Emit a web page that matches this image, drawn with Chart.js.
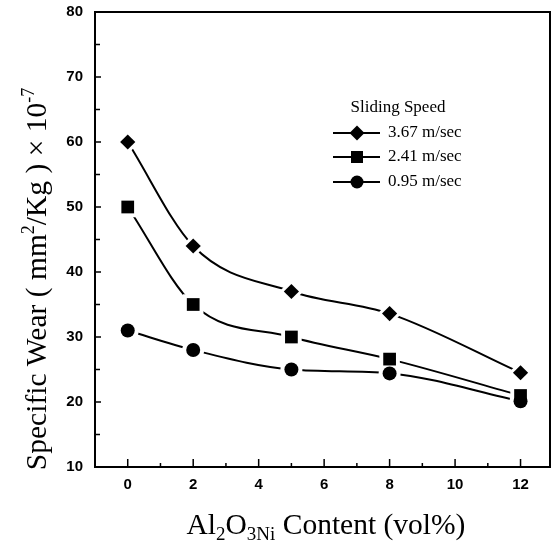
<!DOCTYPE html>
<html>
<head>
<meta charset="utf-8">
<script src="https://cdn.jsdelivr.net/npm/chart.js@4/dist/chart.umd.min.js"></script>
<style>
html,body{margin:0;padding:0;background:#fff;}
#wrap{width:553px;height:542px;}
</style>
</head>
<body>
<div id="wrap"><canvas id="c" width="553" height="542"></canvas></div>
<script>
// ---- data ----
const contents = [0, 2, 5, 8, 12];
const speed367 = [60, 44, 37, 33.6, 24.5];
const speed241 = [50, 35, 30, 26.6, 21];
const speed095 = [31, 28, 25, 24.4, 20.1];
const seriesLabels = ['3.67 m/sec', '2.41 m/sec', '0.95 m/sec'];
const legendTitle = 'Sliding Speed';
const xTickValues = [0, 2, 4, 6, 8, 10, 12];
const xMinorTicks = [1, 3, 5, 7, 9, 11];
const yTickValues = [10, 20, 30, 40, 50, 60, 70, 80];
const yMinorTicks = [15, 25, 35, 45, 55, 65, 75];

const SERIF = '"Liberation Serif", "Times New Roman", serif';
const SANS = '"Liberation Sans", Arial, sans-serif';

function pts(vals){ return contents.map((c,i)=>({x:c, y:vals[i]})); }

const markerDefs = [
  {style:'rectRot', radius:7.6, halo:12},
  {style:'rect', radius:9, halo:14.5},
  {style:'circle', radius:7, halo:11}
];
const seriesVals = [speed367, speed241, speed095];

const datasets = [];
seriesVals.forEach((v,i)=>{
  // line layer
  datasets.push({
    label: seriesLabels[i], data: pts(v), order: 3,
    borderColor: '#000', borderWidth: 2, pointRadius: 0, pointHoverRadius: 0,
    cubicInterpolationMode: 'monotone', fill: false
  });
  // white gap layer
  datasets.push({
    label: seriesLabels[i] + ' gap', data: pts(v), order: 2, showLine: false,
    pointStyle: markerDefs[i].style, pointRadius: markerDefs[i].halo, pointHoverRadius: markerDefs[i].halo,
    pointBackgroundColor: '#fff', pointBorderWidth: 0, pointBorderColor: '#fff'
  });
  // marker layer
  datasets.push({
    label: seriesLabels[i] + ' marker', data: pts(v), order: 1, showLine: false,
    pointStyle: markerDefs[i].style, pointRadius: markerDefs[i].radius, pointHoverRadius: markerDefs[i].radius,
    pointBackgroundColor: '#000', pointBorderWidth: 0, pointBorderColor: '#000'
  });
});

function drawRich(ctx, parts, x, y, align){
  let total = 0;
  parts.forEach(p=>{ ctx.font = p.size + 'px ' + SERIF; p.w = ctx.measureText(p.t).width; total += p.w; });
  let cx = align === 'center' ? x - total/2 : x;
  ctx.textBaseline = 'alphabetic';
  ctx.textAlign = 'left';
  parts.forEach(p=>{ ctx.font = p.size + 'px ' + SERIF; ctx.fillText(p.t, cx, y + (p.dy||0)); cx += p.w; });
}

function drawMarker(ctx, style, x, y){
  ctx.beginPath();
  if(style==='rectRot'){ const r=7.5; ctx.moveTo(x,y-r); ctx.lineTo(x+r,y); ctx.lineTo(x,y+r); ctx.lineTo(x-r,y); ctx.closePath(); }
  else if(style==='rect'){ const h=6; ctx.rect(x-h,y-h,2*h,2*h); }
  else { ctx.arc(x,y,6.5,0,Math.PI*2); }
  ctx.fill();
}

const decor = {
  id: 'decor',
  beforeDatasetsDraw(chart){
    const {ctx, chartArea:a, scales:{x, y}} = chart;
    ctx.save();
    ctx.strokeStyle = '#000';
    ctx.lineWidth = 2;
    ctx.strokeRect(a.left, a.top, a.right - a.left, a.bottom - a.top);
    ctx.lineWidth = 1.5;
    ctx.beginPath();
    xTickValues.forEach(v=>{ const px = x.getPixelForValue(v); ctx.moveTo(px, a.bottom); ctx.lineTo(px, a.bottom - 8); });
    xMinorTicks.forEach(v=>{ const px = x.getPixelForValue(v); ctx.moveTo(px, a.bottom); ctx.lineTo(px, a.bottom - 4); });
    yTickValues.forEach(v=>{ const py = y.getPixelForValue(v); ctx.moveTo(a.left, py); ctx.lineTo(a.left + 6, py); });
    yMinorTicks.forEach(v=>{ const py = y.getPixelForValue(v); ctx.moveTo(a.left, py); ctx.lineTo(a.left + 5, py); });
    ctx.stroke();
    ctx.restore();
  },
  afterDraw(chart){
    const {ctx, chartArea:a} = chart;
    ctx.save();
    ctx.fillStyle = '#000';
    // x title
    drawRich(ctx, [
      {t:'Al', size:29.5},
      {t:'2', size:19, dy:6},
      {t:'O', size:29.5},
      {t:'3Ni', size:19, dy:6},
      {t:' Content (vol%)', size:29.5}
    ], 326, 534, 'center');
    // y title
    ctx.save();
    ctx.translate(46, 279);
    ctx.rotate(-Math.PI/2);
    drawRich(ctx, [
      {t:'Specific Wear ( mm', size:29.5},
      {t:'2', size:18, dy:-12},
      {t:'/Kg ) \u00d7 10', size:29.5},
      {t:'-7', size:18, dy:-12}
    ], 0, 0, 'center');
    ctx.restore();
    // legend
    ctx.font = '17px ' + SERIF;
    ctx.textAlign = 'center';
    ctx.textBaseline = 'middle';
    ctx.fillText(legendTitle, 398, 108);
    const rows = [133, 157, 182];
    seriesLabels.forEach((lab,i)=>{
      const yy = rows[i];
      ctx.strokeStyle = '#000';
      ctx.lineWidth = 2;
      ctx.beginPath(); ctx.moveTo(333, yy); ctx.lineTo(380, yy); ctx.stroke();
      drawMarker(ctx, markerDefs[i].style, 357, yy);
      ctx.font = '17px ' + SERIF;
      ctx.textAlign = 'left';
      ctx.fillText(lab, 388, yy);
    });
    ctx.restore();
  }
};

function zeroPad(s){ s.paddingTop = 0; s.paddingBottom = 0; s.paddingLeft = 0; s.paddingRight = 0; }

new Chart(document.getElementById('c'), {
  type: 'line',
  data: { datasets },
  options: {
    responsive: false,
    animation: false,
    events: [],
    layout: { autoPadding: false, padding: { top: 12, right: 3, left: 0, bottom: 0 } },
    plugins: { legend: { display: false }, tooltip: { enabled: false } },
    scales: {
      x: {
        type: 'linear', min: -1, max: 12.9,
        afterBuildTicks: s => { s.ticks = xTickValues.map(v=>({value:v})); },
        afterFit: s => { s.height = 75; zeroPad(s); },
        grid: { display: false, drawTicks: false },
        border: { display: false },
        ticks: { padding: 9, color: '#000', font: { family: SANS, size: 15, weight: 'bold' } }
      },
      y: {
        type: 'linear', min: 10, max: 80,
        afterBuildTicks: s => { s.ticks = yTickValues.map(v=>({value:v})); },
        afterFit: s => { s.width = 95; zeroPad(s); },
        grid: { display: false, drawTicks: false },
        border: { display: false },
        ticks: { padding: 12, color: '#000', font: { family: SANS, size: 15, weight: 'bold' } }
      }
    }
  },
  plugins: [decor]
});
</script>
</body>
</html>
